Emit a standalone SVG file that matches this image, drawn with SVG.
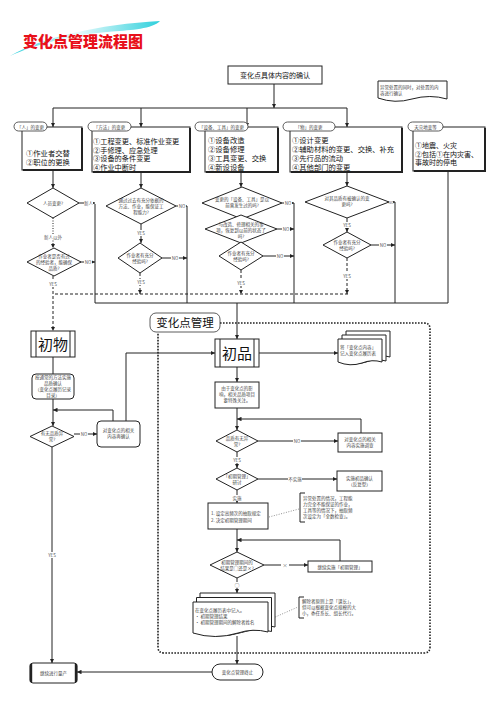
<svg xmlns="http://www.w3.org/2000/svg" width="500" height="708" viewBox="0 0 500 708">
<defs>
<linearGradient id="sw" x1="0" y1="0" x2="1" y2="0"><stop offset="0" stop-color="#2fd0dc"/><stop offset="0.45" stop-color="#e8fbfc"/><stop offset="1" stop-color="#2fd0dc"/></linearGradient>
<marker id="ah" viewBox="0 0 6 6" refX="6" refY="3" markerWidth="4.5" markerHeight="4.5" orient="auto" markerUnits="userSpaceOnUse"><path d="M0,0 L6,3 L0,6z" fill="#222"/></marker>
<style>
text{font-family:"Noto Sans CJK SC","Noto Sans",sans-serif;}
.ln{fill:none;stroke:#222;stroke-width:1}
.dl{fill:none;stroke:#222;stroke-width:1;stroke-dasharray:3 2}
.dt{fill:none;stroke:#222;stroke-width:1;stroke-dasharray:1 1.5}
.bd{fill:none;stroke:#222;stroke-width:1.6;stroke-dasharray:1.6 1.4}
.bx{fill:#fff;stroke:#222;stroke-width:1}
.sh{fill:none;stroke:#222;stroke-width:2}
.pl{fill:#fff;stroke:#333;stroke-width:0.8}
.s{font-size:4.5px;fill:#444;text-anchor:middle}
.sl{font-size:4.5px;fill:#444}
.m{font-size:7.3px;fill:#111}
.lb{font-size:4.5px;fill:#555;text-anchor:middle}
.big{font-size:15px;fill:#111;text-anchor:middle}
.wb{fill:#fff;stroke:none}
</style>
</defs>
<rect width="500" height="708" fill="#fff"/>

<g id="title">
<path d="M10,56 C40,38 100,24 160,21 C152,29 132,30 112,31.5 C72,35 36,44 10,56 Z" fill="url(#sw)"/>
<text x="83" y="47" text-anchor="middle" style="font-size:15px;font-weight:900;fill:#e8101a;stroke:#fff;stroke-width:0.6;paint-order:stroke">变化点管理流程图</text>
</g>

<g id="connectors">
<path class="ln" d="M274,84 V108" marker-end="url(#ah)"/>
<path class="ln" d="M53,108 H347"/>
<path class="ln" d="M53,108 V127" marker-end="url(#ah)"/>
<path class="ln" d="M141,108 V127" marker-end="url(#ah)"/>
<path class="ln" d="M247,108 V127" marker-end="url(#ah)"/>
<path class="ln" d="M347,108 V127" marker-end="url(#ah)"/>
<path class="ln" d="M53,170 V188" marker-end="url(#ah)"/>
<path class="ln" d="M141,172 V188" marker-end="url(#ah)"/>
<path class="ln" d="M241,172 V187" marker-end="url(#ah)"/>
<path class="ln" d="M347,172 V186" marker-end="url(#ah)"/>
<path class="ln" d="M95,204 V303 H448 V171"/>
<path class="ln" d="M187,206 V303"/>
<path class="ln" d="M294,203 V303"/>
<path class="ln" d="M395,202 V303"/>
<path class="ln" d="M79,203 H95" marker-end="url(#ah)"/>
<path class="ln" d="M80,262 H95" marker-end="url(#ah)"/>
<path class="ln" d="M176,206 H187" marker-end="url(#ah)"/>
<path class="ln" d="M162,258 H187" marker-end="url(#ah)"/>
<path class="ln" d="M282,203 H294" marker-end="url(#ah)"/>
<path class="ln" d="M277,229 H294" marker-end="url(#ah)"/>
<path class="ln" d="M263,256 H294" marker-end="url(#ah)"/>
<path class="ln" d="M389,202 H395" marker-end="url(#ah)"/>
<path class="ln" d="M371,245 H395" marker-end="url(#ah)"/>
<path class="dt" d="M53,218 V248" marker-end="url(#ah)"/>
<path class="ln" d="M141,224 V243" marker-end="url(#ah)"/>
<path class="ln" d="M347,218 V232" marker-end="url(#ah)"/>
<path class="dl" d="M53,276 V331" marker-end="url(#ah)"/>
<path class="dl" d="M348,294 H53"/>
<path class="dl" d="M140,273 V294" marker-end="url(#ah)"/>
<path class="dl" d="M241,270 V294" marker-end="url(#ah)"/>
<path class="dl" d="M347,258 V294" marker-end="url(#ah)"/>
<path class="ln" d="M53,357 V374"/>
<path class="ln" d="M53,399 V426" marker-end="url(#ah)"/>
<path class="ln" d="M113,421 V410 H53" marker-end="url(#ah)"/>
<path class="ln" d="M126,421 V353 H215" marker-end="url(#ah)"/>
<path class="ln" d="M74,434 H97" marker-end="url(#ah)"/>
<path class="ln" d="M52,447 V663" marker-end="url(#ah)"/>
<path class="ln" d="M212,672 H77" marker-end="url(#ah)"/>
<path class="ln" d="M237,303 V339" marker-end="url(#ah)"/>
<path class="ln" d="M259,353 H338" marker-end="url(#ah)"/>
<path class="ln" d="M237,367 V382" marker-end="url(#ah)"/>
<path class="ln" d="M237,408 V430" marker-end="url(#ah)"/>
<path class="ln" d="M361,433 V419 H237" marker-end="url(#ah)"/>
<path class="ln" d="M258,441 H338" marker-end="url(#ah)"/>
<path class="ln" d="M237,452 V468" marker-end="url(#ah)"/>
<path class="ln" d="M258,479 H337" marker-end="url(#ah)"/>
<path class="ln" d="M237,490 V503" marker-end="url(#ah)"/>
<path class="ln" d="M237,529 V552" marker-end="url(#ah)"/>
<path class="ln" d="M340,561 V540 H237" marker-end="url(#ah)"/>
<path class="ln" d="M264,565 H308" marker-end="url(#ah)"/>
<path class="ln" d="M237,578 V593" marker-end="url(#ah)"/>
<path class="ln" d="M237,636 V664" marker-end="url(#ah)"/>
<path d="M269,517 L299,509" fill="none" stroke="#777" stroke-width="0.8" stroke-dasharray="1 1.5"/>
<path d="M273,618 L298,607" fill="none" stroke="#777" stroke-width="0.8" stroke-dasharray="1 1.5"/>
<rect class="wb" x="84" y="200" width="9" height="6"/><text class="lb" x="88.5" y="205">新人</text>
<rect class="wb" x="44" y="234" width="18" height="6"/><text class="lb" x="53" y="239">新人以外</text>
<rect class="wb" x="84" y="259" width="8" height="6"/><text class="lb" x="88" y="264">NO</text>
<rect class="wb" x="48" y="281" width="10" height="6"/><text class="lb" x="53" y="286">YES</text>
<rect class="wb" x="178" y="203" width="8" height="6"/><text class="lb" x="182" y="208">NO</text>
<rect class="wb" x="136" y="230" width="10" height="6"/><text class="lb" x="141" y="235">YES</text>
<rect class="wb" x="171" y="255" width="8" height="6"/><text class="lb" x="175" y="260">NO</text>
<rect class="wb" x="136" y="279" width="10" height="6"/><text class="lb" x="141" y="284">YES</text>
<rect class="wb" x="284" y="200" width="8" height="6"/><text class="lb" x="288" y="205">NO</text>
<rect class="wb" x="282" y="226" width="8" height="6"/><text class="lb" x="286" y="231">NO</text>
<rect class="wb" x="276" y="253" width="8" height="6"/><text class="lb" x="280" y="258">NO</text>
<rect class="wb" x="236" y="280" width="10" height="6"/><text class="lb" x="241" y="285">YES</text>
<rect class="wb" x="389" y="199" width="4" height="6"/><text class="lb" x="391" y="204" style="font-size:3.5px">NO</text>
<rect class="wb" x="379" y="242" width="8" height="6"/><text class="lb" x="383" y="247">NO</text>
<rect class="wb" x="342" y="222" width="10" height="6"/><text class="lb" x="347" y="227">YES</text>
<rect class="wb" x="342" y="273" width="10" height="6"/><text class="lb" x="347" y="278">YES</text>
<rect class="wb" x="80" y="431" width="8" height="6"/><text class="lb" x="84" y="436">NO</text>
<rect class="wb" x="47" y="552" width="10" height="6"/><text class="lb" x="52" y="557">YES</text>
<rect class="wb" x="293" y="438" width="8" height="6"/><text class="lb" x="297" y="443">NO</text>
<rect class="wb" x="232" y="457" width="10" height="6"/><text class="lb" x="237" y="462">YES</text>
<rect class="wb" x="288" y="476" width="14" height="6"/><text class="lb" x="295" y="481">不实施</text>
<rect class="wb" x="232" y="495" width="10" height="6"/><text class="lb" x="237" y="500">实施</text>
<rect class="wb" x="281" y="562" width="8" height="6"/><text class="lb" x="285" y="567" style="font-size:5px">×</text>
<rect class="wb" x="233" y="582" width="8" height="6"/><text class="lb" x="237" y="587" style="font-size:5px">○</text>
</g>

<g id="confirm">
<rect class="bx" x="228" y="66" width="94" height="18"/>
<text x="275" y="78" text-anchor="middle" style="font-size:7px;fill:#111">变化点具体内容的确认</text>
</g>

<g id="note-top">
<path class="bx" d="M378,81 H447 V99 Q430,94 412,99 Q395,104 378,98 Z" stroke-width="0.8"/>
<text class="sl" x="380" y="89">异常处置的同时，对处置的内</text>
<text class="sl" x="380" y="95">容进行确认</text>
</g>

<g id="col1">
<rect class="bx" x="22" y="127" width="60" height="43"/>
<path class="sh" d="M82,128 V170 H23"/>
<rect class="pl" x="14" y="122" width="33" height="9" rx="4.5"/>
<text class="s" x="30.5" y="128.5">「人」的变更</text>
<text class="m" x="26" y="156">①作业者交替</text>
<text class="m" x="26" y="165">②职位的更换</text>
</g>
<g id="col2">
<rect class="bx" x="92" y="127" width="98" height="45"/>
<path class="sh" d="M190,128 V172 H93"/>
<rect class="pl" x="88" y="122" width="43" height="9" rx="4.5"/>
<text class="s" x="109.5" y="128.5">「方法」的变更</text>
<text class="m" x="93" y="144" style="font-size:7.2px">①工程变更、标准作业变更</text>
<text class="m" x="93" y="152.7" style="font-size:7.2px">②手修理、应急处理</text>
<text class="m" x="93" y="161.4" style="font-size:7.2px">③设备的条件变更</text>
<text class="m" x="93" y="170.1" style="font-size:7.2px">④作业中断时</text>
</g>
<g id="col3">
<rect class="bx" x="205" y="127" width="73" height="45"/>
<path class="sh" d="M278,128 V172 H206"/>
<rect class="pl" x="195" y="122" width="53" height="9" rx="4.5"/>
<text class="s" x="221.5" y="128.5">「设备、工具」的变更</text>
<text class="m" x="208" y="143">①设备改造</text>
<text class="m" x="208" y="152">②设备修理</text>
<text class="m" x="208" y="161">③工具变更、交换</text>
<text class="m" x="208" y="170">④新设设备</text>
</g>
<g id="col4">
<rect class="bx" x="290" y="127" width="112" height="45"/>
<path class="sh" d="M402,128 V172 H291"/>
<rect class="pl" x="283" y="122" width="52" height="9" rx="4.5"/>
<text class="s" x="309" y="128.5">「物」的变更</text>
<text class="m" x="292" y="143">①设计变更</text>
<text class="m" x="292" y="152">②辅助材料的变更、交换、补充</text>
<text class="m" x="292" y="161">③先行品的流动</text>
<text class="m" x="292" y="170">④其他部门的变更</text>
</g>
<g id="col5">
<rect class="bx" x="413" y="127" width="72" height="44"/>
<path class="sh" d="M485,128 V171 H414"/>
<rect class="pl" x="408" y="122" width="35" height="9" rx="4.5"/>
<text class="s" x="425.5" y="128.5">天灾地变等</text>
<text class="m" x="415" y="148" style="font-size:7px">①地震、火灾</text>
<text class="m" x="415" y="156.5" style="font-size:7px">②包括①在内灾害、</text>
<text class="m" x="415" y="165" style="font-size:7px">事故时的停电</text>
</g>

<g id="d-c1a"><polygon class="bx" points="53,188 79,203 53,218 27,203"/><text class="s" x="53" y="205">人员变更?</text></g>
<g id="d-c1b"><polygon class="bx" points="54,248 81,262 54,276 27,262"/><text class="s" x="54" y="258">作业者是否有过</text><text class="s" x="54" y="264">的经验者，能确保</text><text class="s" x="54" y="270">品质?</text></g>
<g id="d-c2a"><polygon class="bx" points="141,188 176,206 141,224 106,206"/><text class="s" x="141" y="202">通过过去有充分依据的</text><text class="s" x="141" y="208">方法、作业，能保证工</text><text class="s" x="141" y="214">程能力?</text></g>
<g id="d-c2b"><polygon class="bx" points="140,243 162,258 140,273 118,258"/><text class="s" x="140" y="257">作业者有充分</text><text class="s" x="140" y="263">经验吗?</text></g>
<g id="d-c3a"><polygon class="bx" points="242,187 282,203 242,219 202,203"/><text class="s" x="242" y="201">变更的「设备、工具」是以</text><text class="s" x="242" y="207">前曾发生过的吗?</text></g>
<g id="d-c3b"><polygon class="bx" points="241,215 277,229 241,243 205,229"/><text class="s" x="241" y="226">与改造、修理相关的事</text><text class="s" x="241" y="232">项，恢复到以前的状态了</text><text class="s" x="241" y="238">吗?</text></g>
<g id="d-c3c"><polygon class="bx" points="241,242 263,256 241,270 219,256"/><text class="s" x="241" y="255">作业者有充分</text><text class="s" x="241" y="261">经验吗?</text></g>
<g id="d-c4a"><polygon class="bx" points="347,186 389,202 347,218 305,202"/><text class="s" x="347" y="200">对其品质有被确认的变</text><text class="s" x="347" y="206">更吗?</text></g>
<g id="d-c4b"><polygon class="bx" points="347,232 371,245 347,258 323,245"/><text class="s" x="347" y="244">作业者有充分</text><text class="s" x="347" y="250">经验吗?</text></g>

<g id="region">
<path class="bd" d="M220,323 H424 Q430,323 430,329 V647 Q430,653 424,653 H164 Q158,653 158,647 V333"/>
<rect class="pl" x="150" y="313" width="70" height="19" rx="6"/>
<text x="185" y="327" text-anchor="middle" style="font-size:11.5px;fill:#111">变化点管理</text>
</g>

<g id="shobutsu">
<rect class="bx" x="31" y="331" width="44" height="26"/>
<path class="ln" d="M36,331 V357 M70,331 V357"/>
<text class="big" x="53" y="349.5">初物</text>
</g>
<g id="normal-check">
<rect class="bx" x="32" y="374" width="42" height="25" rx="4"/>
<text class="s" x="53" y="379">按通常的方法实施</text>
<text class="s" x="53" y="385">品质确认</text>
<text class="s" x="53" y="391">（变化点履历记录</text>
<text class="s" x="53" y="397">目录）</text>
</g>
<g id="d-left"><polygon class="bx" points="52,426 74,436.5 52,447 30,436.5"/><text class="s" x="52" y="435">有无品质异</text><text class="s" x="52" y="441">常?</text></g>
<g id="recheck">
<rect class="bx" x="97" y="421" width="43" height="26" rx="4"/>
<text class="s" x="118.5" y="432">对变化点的相关</text>
<text class="s" x="118.5" y="438">内容再确认</text>
</g>
<g id="mass">
<rect class="bx" x="30" y="663" width="47" height="20" rx="3"/>
<path d="M31,664 V682 M76,664 V682" stroke="#222" stroke-width="2.4" fill="none"/>
<text class="s" x="53.5" y="674.5">继续进行量产</text>
</g>

<g id="shohin">
<rect class="bx" x="215" y="339" width="44" height="28"/>
<path class="ln" d="M220,339 V367 M254,339 V367"/>
<text class="big" x="237" y="358.5">初品</text>
</g>
<g id="record1">
<path class="bx" d="M346,331 H390 V357 Q380,354 370,358 Q358,362 346,357 Z" stroke-width="0.8"/>
<path class="bx" d="M342,335 H386 V361 Q376,358 366,362 Q354,366 342,361 Z" stroke-width="0.8"/>
<path class="bx" d="M338,339 H382 V362 Q372,359 362,363 Q350,367 338,362 Z" stroke-width="0.8"/>
<text class="sl" x="340" y="349">将「变化点内容」</text>
<text class="sl" x="340" y="355">记入变化点履历表</text>
</g>
<g id="attention">
<rect class="bx" x="215" y="382" width="44" height="26"/>
<text class="s" x="237" y="389.5">由于变化点的影</text>
<text class="s" x="237" y="395.5">响，相关品质项目</text>
<text class="s" x="237" y="401.5">要特殊关注。</text>
</g>
<g id="d-q"><polygon class="bx" points="237,430 258,441 237,452 216,441"/><text class="s" x="237" y="440">品质有无异</text><text class="s" x="237" y="446">常?</text></g>
<g id="investigate">
<rect class="bx" x="338" y="433" width="44" height="19"/>
<text class="s" x="360" y="441">对变化点的相关</text>
<text class="s" x="360" y="447">内容实施调查</text>
</g>
<g id="d-init"><polygon class="bx" points="237,468 258,479 237,490 216,479"/><text class="s" x="237" y="478">「初期管理」</text><text class="s" x="237" y="484">研讨</text></g>
<g id="first-check">
<rect class="bx" x="337" y="471" width="45" height="20"/>
<text class="s" x="359.5" y="479.5">实施初品确认</text>
<text class="s" x="359.5" y="485.5">（反复型）</text>
</g>
<g id="setting">
<rect class="bx" x="208" y="503" width="60" height="26"/>
<text class="sl" x="211" y="515">1. 设定高频次的抽取规定</text>
<text class="sl" x="211" y="521.5">2. 决定初期管理期间</text>
</g>
<g id="note1">
<path class="ln" d="M305,493 H300 V522 H305" stroke-width="0.8"/>
<text class="sl" x="303" y="499.5">异常处置的情况，工程能</text>
<text class="sl" x="303" y="505.5">力完全不能保证的作业，</text>
<text class="sl" x="303" y="511.5">工具等的情况下，抽取频</text>
<text class="sl" x="303" y="517.5">次设定为「全数检查」。</text>
</g>
<g id="d-result"><polygon class="bx" points="237,552 264,565 237,578 210,565"/><text class="s" x="237" y="563.5">初期管理期间的</text><text class="s" x="237" y="569.5">结果是○还是×?</text></g>
<g id="continue">
<rect class="bx" x="308" y="561" width="64" height="11"/>
<text class="s" x="340" y="568.5">继续实施「初期管理」</text>
</g>
<g id="record2">
<path class="bx" d="M200,593 H275 V627 Q260,623 245,628 Q222,635 200,628 Z" stroke-width="0.8"/>
<path class="bx" d="M196.5,597.5 H271.5 V631.5 Q256.5,627.5 241.5,632.5 Q218.5,639.5 196.5,632.5 Z" stroke-width="0.8"/>
<path class="bx" d="M193,602 H268 V632 Q253,628 238,633 Q215,640 193,633 Z" stroke-width="0.8"/>
<text class="sl" x="195" y="612">在变化点履历表中记入。</text>
<text class="sl" x="195" y="618">• 初期管理结果</text>
<text class="sl" x="195" y="624">• 初期管理期间的解除者姓名</text>
</g>
<g id="note2">
<path class="ln" d="M304,597 H299 V618 H304" stroke-width="0.8"/>
<text class="sl" x="302" y="602.5">解除者原则上是「课长」，</text>
<text class="sl" x="302" y="608.5">但可以根据变化点规模的大</text>
<text class="sl" x="302" y="614.5">小，委任系长、组长代行。</text>
</g>
<g id="end">
<rect class="bx" x="212" y="664" width="51" height="16" rx="8"/>
<text class="s" x="237.5" y="673.5">变化点管理终止</text>
</g>
</svg>
